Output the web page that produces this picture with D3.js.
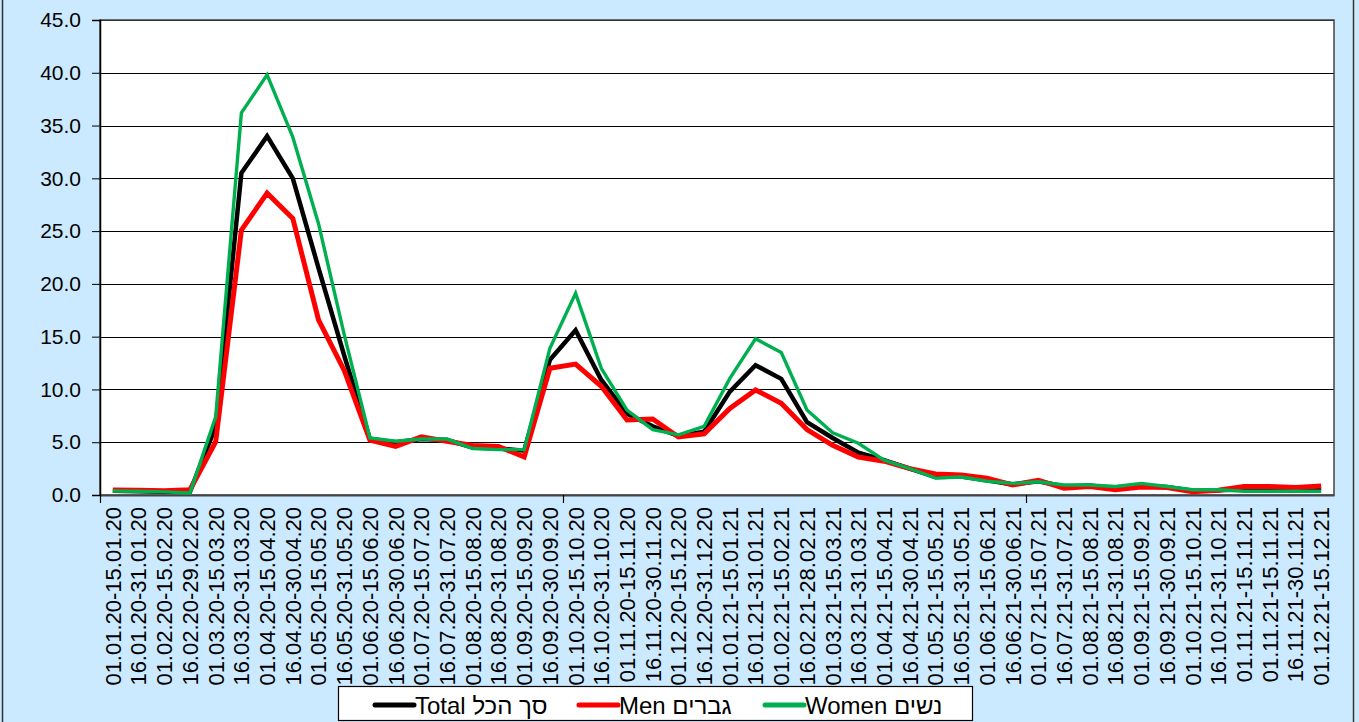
<!DOCTYPE html>
<html>
<head>
<meta charset="utf-8">
<title>Rates chart</title>
<style>
  body { margin: 0; background: #cceaff; }
  svg { display: block; }
</style>
</head>
<body>
<div id="container"></div>
<script src="https://d3js.org/d3.v7.min.js"></script>
<script>

// half-month periods, 2020-2021
const periods = [
  "01.01.20-15.01.20", "16.01.20-31.01.20", "01.02.20-15.02.20", "16.02.20-29.02.20",
  "01.03.20-15.03.20", "16.03.20-31.03.20", "01.04.20-15.04.20", "16.04.20-30.04.20",
  "01.05.20-15.05.20", "16.05.20-31.05.20", "01.06.20-15.06.20", "16.06.20-30.06.20",
  "01.07.20-15.07.20", "16.07.20-31.07.20", "01.08.20-15.08.20", "16.08.20-31.08.20",
  "01.09.20-15.09.20", "16.09.20-30.09.20", "01.10.20-15.10.20", "16.10.20-31.10.20",
  "01.11.20-15.11.20", "16.11.20-30.11.20", "01.12.20-15.12.20", "16.12.20-31.12.20",
  "01.01.21-15.01.21", "16.01.21-31.01.21", "01.02.21-15.02.21", "16.02.21-28.02.21",
  "01.03.21-15.03.21", "16.03.21-31.03.21", "01.04.21-15.04.21", "16.04.21-30.04.21",
  "01.05.21-15.05.21", "16.05.21-31.05.21", "01.06.21-15.06.21", "16.06.21-30.06.21",
  "01.07.21-15.07.21", "16.07.21-31.07.21", "01.08.21-15.08.21", "16.08.21-31.08.21",
  "01.09.21-15.09.21", "16.09.21-30.09.21", "01.10.21-15.10.21", "16.10.21-31.10.21",
  "01.11.21-15.11.21", "01.11.21-15.11.21", "16.11.21-30.11.21", "01.12.21-15.12.21"
];

const total = [
  0.4, 0.35, 0.3, 0.3, 6.5, 30.5, 34.0, 30.0, 21.5, 13.2,
  5.3, 5.0, 5.3, 5.2, 4.5, 4.4, 4.2, 12.8, 15.6, 10.9,
  7.7, 6.5, 5.6, 6.0, 9.8, 12.3, 11.0, 6.9, 5.4, 4.0,
  3.3, 2.5, 1.7, 1.75, 1.4, 1.0, 1.3, 0.8, 0.9, 0.65,
  0.9, 0.75, 0.4, 0.45, 0.55, 0.55, 0.5, 0.6
];

const men = [
  0.47, 0.45, 0.4, 0.5, 5.05, 25.1, 28.6, 26.2, 16.6, 11.8,
  5.2, 4.6, 5.5, 5.1, 4.7, 4.6, 3.6, 12.0, 12.4, 10.3,
  7.1, 7.2, 5.5, 5.8, 8.2, 9.95, 8.7, 6.2, 4.7, 3.6,
  3.2, 2.5, 2.0, 1.9, 1.6, 0.95, 1.4, 0.65, 0.8, 0.5,
  0.75, 0.7, 0.3, 0.45, 0.8, 0.8, 0.7, 0.85
];

const women = [
  0.38, 0.35, 0.3, 0.2, 7.4, 36.2, 39.8, 33.9, 25.7, 15.2,
  5.4, 5.1, 5.3, 5.3, 4.4, 4.3, 4.3, 13.9, 19.1, 12.0,
  8.05, 6.2, 5.7, 6.5, 11.05, 14.8, 13.5, 8.05, 5.9, 4.9,
  3.3, 2.5, 1.6, 1.7, 1.3, 1.1, 1.25, 0.95, 0.95, 0.8,
  1.1, 0.8, 0.5, 0.5, 0.35, 0.35, 0.35, 0.35
];

const yTicks = [0, 5, 10, 15, 20, 25, 30, 35, 40, 45];

const series = [
  { key: "Total", label: "Total סך הכל", color: "#000000", width: 4.5, values: total },
  { key: "Men", label: "Men גברים", color: "#ff0000", width: 5, values: men },
  { key: "Women", label: "Women נשים", color: "#00b050", width: 3.4, values: women }
];

const width = 1359;
const height = 722;
const plot = { left: 100, top: 20, right: 1334, bottom: 495 };

const svg = d3.select("#container")
  .append("svg")
  .attr("width", width)
  .attr("height", height);

// outer frame
svg.append("rect")
  .attr("x", 2.5).attr("y", -2)
  .attr("width", 1351).attr("height", height + 4)
  .style("fill", "#cceaff")
  .style("stroke", "#333")
  .style("stroke-width", 1.5);

const x = d3.scaleBand()
  .domain(d3.range(periods.length))
  .range([plot.left, plot.right])
  .padding(0);

const y = d3.scaleLinear()
  .domain([0, 45])
  .range([plot.bottom, plot.top]);

const cx = i => x(i) + x.bandwidth() / 2;

// plot area
svg.append("rect")
  .attr("x", plot.left).attr("y", plot.top)
  .attr("width", plot.right - plot.left)
  .attr("height", plot.bottom - plot.top)
  .style("fill", "white");

svg.append("g")
  .selectAll("line")
  .data(yTicks.slice(1))
  .join("line")
    .attr("x1", plot.left).attr("x2", plot.right)
    .attr("y1", d => Math.round(y(d)) + 0.5)
    .attr("y2", d => Math.round(y(d)) + 0.5)
    .style("stroke", "#000")
    .style("stroke-width", 1.2);

svg.append("rect")
  .attr("x", plot.left).attr("y", plot.top)
  .attr("width", plot.right - plot.left)
  .attr("height", plot.bottom - plot.top)
  .style("fill", "none")
  .style("stroke", "#444")
  .style("stroke-width", 1.5);

// y axis
const yAxis = svg.append("g")
  .attr("transform", `translate(${plot.left},0)`)
  .call(d3.axisLeft(y)
    .tickValues(yTicks)
    .tickFormat(d3.format(".1f"))
    .tickSize(8)
    .tickPadding(11));
yAxis.select(".domain").style("stroke", "#000").style("stroke-width", 1.5);
yAxis.selectAll(".tick line").style("stroke", "#000");
yAxis.selectAll("text")
  .style("font-family", "Liberation Sans, Arial, sans-serif")
  .style("font-size", "21px")
  .style("fill", "#000");

// x axis: labels at every period, tick marks every 18 periods
const xAxis = svg.append("g")
  .attr("transform", `translate(0,${plot.bottom})`)
  .call(d3.axisBottom(x).tickSize(0).tickFormat(i => periods[i]));
xAxis.select(".domain").style("stroke", "#444").style("stroke-width", 2);
xAxis.selectAll("text")
  .attr("transform", "rotate(-90)")
  .attr("x", -12)
  .attr("y", 0)
  .attr("dy", "0.36em")
  .style("text-anchor", "end")
  .style("font-family", "Liberation Sans, Arial, sans-serif")
  .style("font-size", "22px")
  .style("fill", "#000");

svg.append("g")
  .selectAll("line")
  .data([0, 18, 36])
  .join("line")
    .attr("x1", d => Math.round(x(d)) + 0.5)
    .attr("x2", d => Math.round(x(d)) + 0.5)
    .attr("y1", plot.bottom)
    .attr("y2", plot.bottom + 8)
    .style("stroke", "#000")
    .style("stroke-width", 1.2);

// lines
const line = d3.line()
  .x((d, i) => cx(i))
  .y(d => y(d));

svg.append("g")
  .selectAll("path")
  .data(series)
  .join("path")
    .attr("d", d => line(d.values))
    .style("fill", "none")
    .style("stroke", d => d.color)
    .style("stroke-width", d => d.width)
    .style("stroke-linejoin", "miter");

// legend
const legend = svg.append("g");
legend.append("rect")
  .attr("x", 338.5).attr("y", 686.5)
  .attr("width", 634).attr("height", 34)
  .style("fill", "white")
  .style("stroke", "#000")
  .style("stroke-width", 1.2);

const legendX = [375, 579, 765];
const item = legend.selectAll(".item")
  .data(series)
  .join("g")
    .attr("class", "item")
    .attr("transform", (d, i) => `translate(${legendX[i]},705)`);

item.append("line")
  .attr("x1", 0).attr("x2", 39)
  .style("stroke", d => d.color)
  .style("stroke-width", 5)
  .style("stroke-linecap", "round");

item.append("text")
  .attr("x", 40)
  .attr("dy", "0.36em")
  .text(d => d.label)
  .style("font-family", "Liberation Sans, Arial, sans-serif")
  .style("font-size", "24px")
  .style("fill", "#000");

</script>
